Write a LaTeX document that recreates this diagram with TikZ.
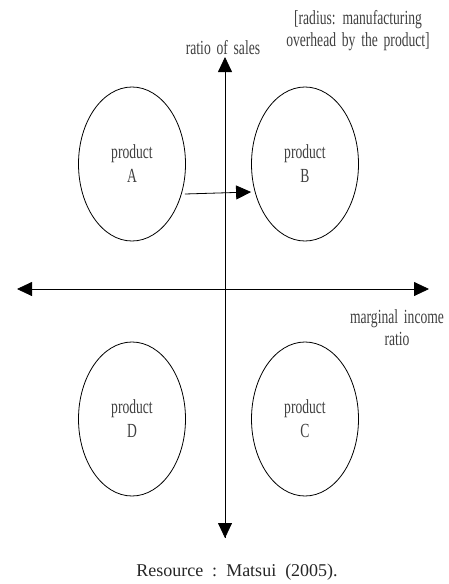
\documentclass[tikz,border=0pt]{standalone}
\usepackage{fontspec}
\setmainfont{Liberation Serif}
\newfontfamily\cond{Liberation Serif}[FakeStretch=0.68,WordSpace=1.7]
\usetikzlibrary{shapes.geometric,arrows.meta}
\begin{document}
\begin{tikzpicture}[x=1pt,y=-1pt,
  prod/.style={ellipse,draw,line width=0.8pt,minimum width=107pt,minimum height=154pt,inner sep=0pt,
    align=center,font=\cond\fontsize{20}{24}\selectfont,text=black!75},
  lbl/.style={align=center,font=\cond\fontsize{20}{22}\selectfont,text=black!75,inner sep=0pt},
  axis/.style={line width=0.8pt,-{Triangle[length=15pt,width=14pt]}}]
\useasboundingbox (0,0) rectangle (449,584);
\node[prod] (A) at (132,164) {product\\A};
\node[prod] (B) at (305,164) {product\\B};
\node[prod] (D) at (132,419) {product\\D};
\node[prod] (C) at (305,419) {product\\C};
\coordinate (vt) at (225,57);
\coordinate (vb) at (225,538);
\coordinate (hl) at (17,289);
\coordinate (hr) at (429,289);
\draw[axis] (vb) -- (vt);
\draw[axis] (225,289) -- (vb);
\draw[axis] (225,289) -- (hl);
\draw[axis] (225,289) -- (hr);
\draw[axis] ([xshift=-1pt,yshift=-30pt]A.east) -- ([yshift=-28pt]B.west);
\node[lbl] (ys) at (223,48) {ratio of sales};
\node[lbl] (rad) at (358,31) {[radius: manufacturing\\overhead by the product]};
\node[lbl] (xs) at (397,328) {marginal income\\ratio};
\node[inner sep=0pt,font=\fontsize{18}{20}\selectfont,text=black!85] (src) at (237,572) {Resource\ \ :\ \ Matsui\ \ (2005).};
\end{tikzpicture}
\end{document}
